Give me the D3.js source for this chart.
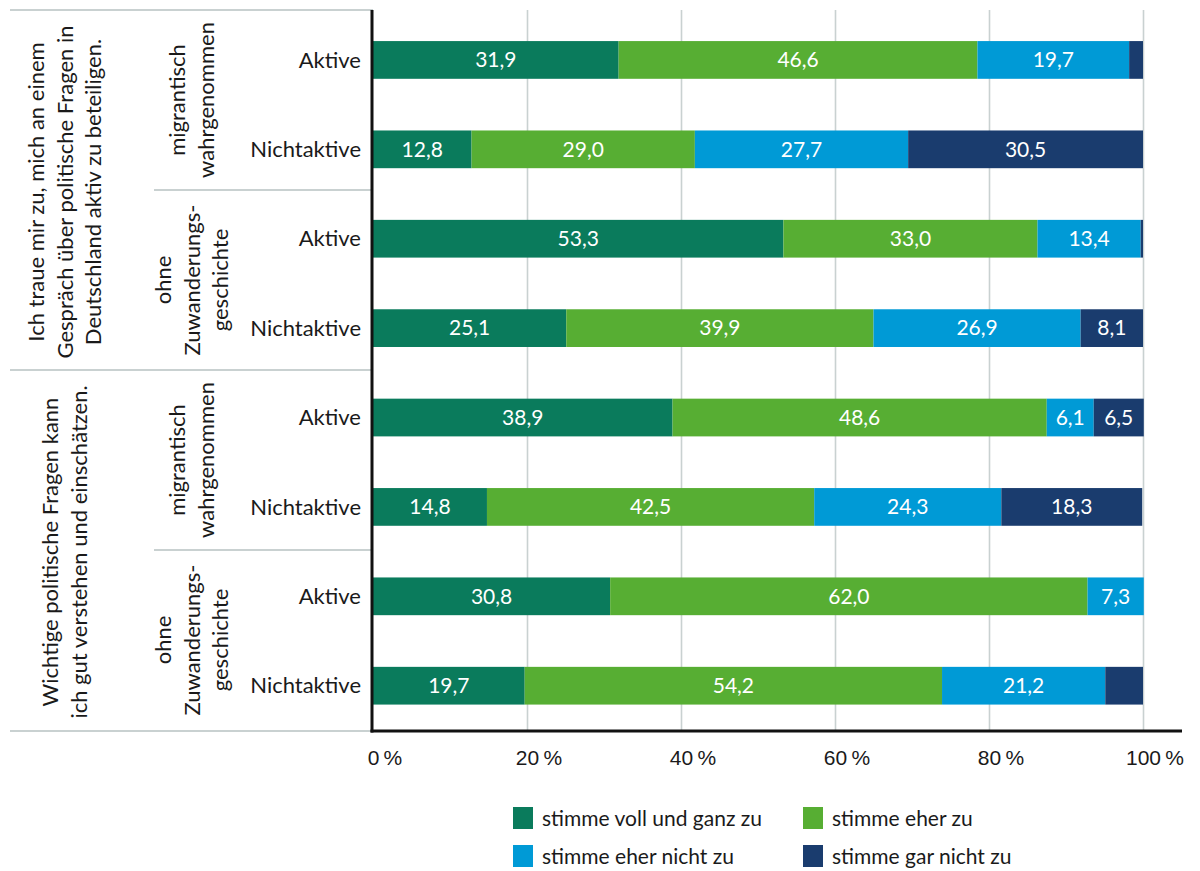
<!DOCTYPE html>
<html lang="de">
<head>
<meta charset="utf-8">
<script src="https://cdn.jsdelivr.net/npm/d3@7"></script>
<style>
  html, body { margin: 0; padding: 0; background: #ffffff; }
  svg { display: block; font-family: Lato, "Open Sans", sans-serif; }
</style>
</head>
<body>
<svg id="chart" width="1200" height="871"></svg>
<script>
// Row labels, one per bar (top to bottom)
const rowLabels = ["Aktive", "Nichtaktive", "Aktive", "Nichtaktive",
                   "Aktive", "Nichtaktive", "Aktive", "Nichtaktive"];

// Inner group labels (two rows each)
const groupLabels = [
  ["migrantisch", "wahrgenommen"],
  ["ohne", "Zuwanderungs-", "geschichte"],
  ["migrantisch", "wahrgenommen"],
  ["ohne", "Zuwanderungs-", "geschichte"]
];

// Outer statement labels (four rows each)
const statementLabels = [
  ["Ich traue mir zu, mich an einem", "Gespräch über politische Fragen in", "Deutschland aktiv zu beteiligen."],
  ["Wichtige politische Fragen kann", "ich gut verstehen und einschätzen."]
];

// Answer categories
const seriesNames = ["stimme voll und ganz zu", "stimme eher zu",
                     "stimme eher nicht zu", "stimme gar nicht zu"];
const seriesColors = ["#0a7b5c", "#57ae33", "#009ad6", "#1a3c6e"];

// Shares in percent per row
const vollUndGanz = [31.9, 12.8, 53.3, 25.1, 38.9, 14.8, 30.8, 19.7];
const eher        = [46.6, 29.0, 33.0, 39.9, 48.6, 42.5, 62.0, 54.2];
const eherNicht   = [19.7, 27.7, 13.4, 26.9,  6.1, 24.3,  7.3, 21.2];
const garNicht    = [ 1.8, 30.5,  0.3,  8.1,  6.5, 18.3,  0.0,  4.9];

const xTicks = [0, 20, 40, 60, 80, 100];

// ---------------------------------------------------------------
const series = [vollUndGanz, eher, eherNicht, garNicht];
const rows = rowLabels.map((label, i) => {
  const r = { id: i, label };
  seriesNames.forEach((s, k) => { r[s] = series[k][i]; });
  return r;
});

const svg = d3.select("#chart");
const plotTop = 10, plotBottom = 731;
const xLeft = 373, xRight = 1143;

const x = d3.scaleLinear().domain([0, 100]).range([xLeft, xRight]);
const y = d3.scaleBand()
  .domain(rows.map(r => r.id))
  .range([plotTop, plotBottom - 1])
  .paddingInner(0.578)
  .paddingOuter(0.316)
  .align(0.55);

// Group boundaries for the label column
const groupScale = d3.scaleBand().domain(d3.range(groupLabels.length)).range([plotTop, plotBottom - 1]);
const statementScale = d3.scaleBand().domain(d3.range(statementLabels.length)).range([plotTop, plotBottom - 1]);

const gray = "#c9d1d1";

// Vertical gridlines
svg.append("g")
  .attr("transform", `translate(0,${plotBottom})`)
  .call(d3.axisBottom(x).tickValues(xTicks.slice(1)).tickSize(-(plotBottom - plotTop)).tickFormat(""))
  .call(g => g.select(".domain").remove())
  .call(g => g.selectAll("line").attr("stroke", gray).attr("stroke-width", 1.6));

// Label-column separators
const sepLines = [];
statementLabels.forEach((_, i) => {
  sepLines.push({ y: statementScale(i), x0: 10 });
});
sepLines.push({ y: plotBottom, x0: 10 });
groupLabels.forEach((_, i) => {
  if (i % 2 === 1) sepLines.push({ y: groupScale(i), x0: 154 });
});
svg.append("g").selectAll("line").data(sepLines).join("line")
  .attr("x1", d => d.x0).attr("x2", xLeft)
  .attr("y1", d => d.y).attr("y2", d => d.y)
  .attr("stroke", gray).attr("stroke-width", 1.8);

// Stacked bars
const stack = d3.stack().keys(seriesNames);
const stacked = stack(rows);

const layers = svg.append("g").selectAll("g").data(stacked).join("g")
  .attr("fill", (d, i) => seriesColors[i]);

layers.selectAll("rect").data(d => d).join("rect")
  .attr("x", d => x(d[0]))
  .attr("width", d => Math.max(0, x(d[1]) - x(d[0])))
  .attr("y", (d, i) => y(rows[i].id))
  .attr("height", y.bandwidth());

// Value labels inside the segments
const fmt = v => d3.format(".1f")(v).replace(".", ",");
layers.selectAll("text").data(d => d.filter(s => (s[1] - s[0]) >= 5).map(s => ({ s, key: d.key })))
  .join("text")
  .attr("x", d => (x(d.s[0]) + x(d.s[1])) / 2)
  .attr("y", d => y(d.s.data.id) + y.bandwidth() / 2)
  .attr("dy", "0.35em")
  .attr("text-anchor", "middle")
  .attr("fill", "#ffffff")
  .attr("font-size", 21)
  .text(d => fmt(d.s.data[d.key]));

// Axis lines
svg.append("line")
  .attr("x1", xLeft - 1).attr("x2", xLeft - 1)
  .attr("y1", plotTop).attr("y2", plotBottom + 1.5)
  .attr("stroke", "#111").attr("stroke-width", 3);
svg.append("line")
  .attr("x1", xLeft - 2.5).attr("x2", 1182)
  .attr("y1", plotBottom).attr("y2", plotBottom)
  .attr("stroke", "#111").attr("stroke-width", 3);

// X tick labels: the number is centred on its tick, the percent sign follows
const xAxis = svg.append("g")
  .attr("transform", `translate(0,${plotBottom})`)
  .call(d3.axisBottom(x).tickValues(xTicks).tickSize(0).tickPadding(0).tickFormat(""))
  .call(g => g.select(".domain").remove());
xAxis.selectAll(".tick").each(function (v) {
  const t = d3.select(this).append("text")
    .attr("y", 34)
    .attr("fill", "#1a1a1a")
    .attr("font-size", 21)
    .attr("text-anchor", "start");
  const num = t.append("tspan").text(String(v));
  t.append("tspan").text("\u2009%");
  const w = num.node().getComputedTextLength();
  t.attr("x", -w / 2);
});

// Row labels
svg.append("g").selectAll("text").data(rows).join("text")
  .attr("x", 361)
  .attr("y", d => y(d.id) + y.bandwidth() / 2)
  .attr("dy", "0.35em")
  .attr("text-anchor", "end")
  .attr("fill", "#1a1a1a")
  .attr("font-size", 22)
  .text(d => d.label);

// Rotated multi-line labels
function rotatedBlock(g, cx, cy, lines, lineH) {
  const t = g.append("text")
    .attr("transform", `translate(${cx},${cy}) rotate(-90)`)
    .attr("text-anchor", "middle")
    .attr("fill", "#1a1a1a")
    .attr("font-size", 22);
  const off = -(lines.length - 1) / 2 * lineH;
  lines.forEach((ln, i) => {
    t.append("tspan").attr("x", 0).attr("y", off + i * lineH).attr("dy", "0.35em").text(ln);
  });
}
const labelG = svg.append("g");
groupLabels.forEach((lines, i) => {
  rotatedBlock(labelG, 192, groupScale(i) + groupScale.bandwidth() / 2, lines, 28.5);
});
statementLabels.forEach((lines, i) => {
  rotatedBlock(labelG, 65, statementScale(i) + statementScale.bandwidth() / 2 + 2, lines, 28.5);
});

// Legend
const legendPos = [[513, 807], [803, 807], [513, 845], [803, 845]];
const legend = svg.append("g").selectAll("g").data(seriesNames).join("g")
  .attr("transform", (d, i) => `translate(${legendPos[i][0]},${legendPos[i][1]})`);
legend.append("rect").attr("width", 20).attr("height", 22)
  .attr("fill", (d, i) => seriesColors[i]);
legend.append("text").attr("x", 29).attr("y", 19)
  .attr("fill", "#1a1a1a").attr("font-size", 21)
  .text(d => d);
</script>
</body>
</html>
